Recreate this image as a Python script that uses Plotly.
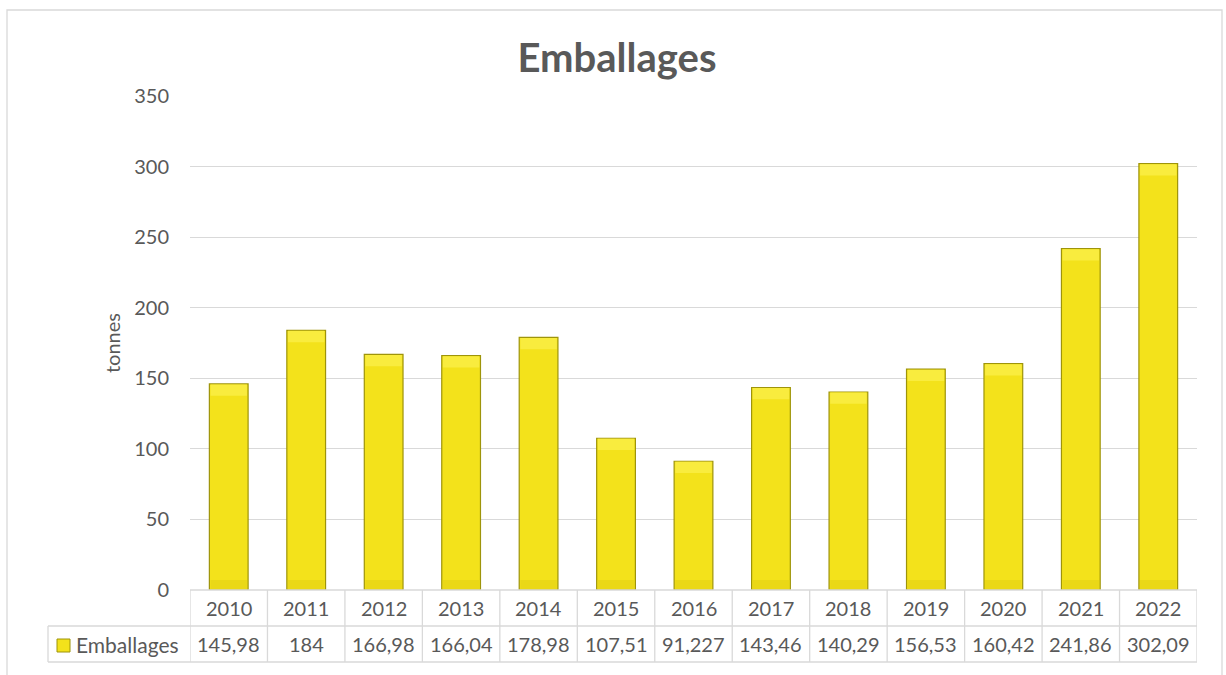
import plotly.graph_objects as go

# ---- data ----
years = ["2010", "2011", "2012", "2013", "2014", "2015", "2016",
         "2017", "2018", "2019", "2020", "2021", "2022"]
emballages = [145.98, 184, 166.98, 166.04, 178.98, 107.51, 91.227,
              143.46, 140.29, 156.53, 160.42, 241.86, 302.09]
series_name = "Emballages"
y_title = "tonnes"
y_ticks = [0, 50, 100, 150, 200, 250, 300, 350]

labels = [str(v).replace(".", ",") for v in emballages]

# ---- layout geometry (pixels) ----
FW, FH = 1226, 675
L, R, T, B = 190, 1197, 96, 590
W, H = R - L, B - T


def px(x):
    return (x - L) / W


def py(y):
    return (B - y) / H


FONT = "Lato, 'Open Sans', sans-serif"
TXT = "#595959"
GRID = "#D9D9D9"
BAR = "#F3E21B"
BAR_EDGE = "#9E940A"
BAR_TOP = "#F9EC3E"
BAR_BOT = "#EAD817"

n = len(years)
idx = list(range(n))
bevel = 8  # data units for bevel bands

fig = go.Figure()
fig.add_trace(go.Bar(
    x=idx, y=emballages, name=series_name, width=0.5,
    marker=dict(color=BAR, line=dict(color=BAR_EDGE, width=1.2)),
    showlegend=False, hoverinfo="x+y"))
fig.add_trace(go.Bar(
    x=idx, y=[bevel] * n, base=[v - bevel - 0.4 for v in emballages], width=0.47,
    marker=dict(color=BAR_TOP, line=dict(width=0)),
    showlegend=False, hoverinfo="skip"))
fig.add_trace(go.Bar(
    x=idx, y=[bevel * 0.8] * n, base=[0.6] * n, width=0.47,
    marker=dict(color=BAR_BOT, line=dict(width=0)),
    showlegend=False, hoverinfo="skip"))

shapes = []
line = dict(color=GRID, width=1.3)
# outer chart border
shapes.append(dict(type="rect", xref="paper", yref="paper",
                   x0=px(7), x1=px(1222), y0=py(700), y1=py(10),
                   line=dict(color=GRID, width=1.3), layer="below"))
# data table
y_top, y_mid, y_bot = py(590), py(626), py(662)
for i in range(n + 1):
    shapes.append(dict(type="line", xref="x", yref="paper",
                       x0=i - 0.5, x1=i - 0.5, y0=y_top, y1=y_bot, line=line))
shapes.append(dict(type="line", xref="paper", yref="paper",
                   x0=px(48), x1=px(48), y0=y_mid, y1=y_bot, line=line))
shapes.append(dict(type="line", xref="x", yref="paper",
                   x0=-0.5, x1=n - 0.5, y0=y_top, y1=y_top, line=line))
for yy in (y_mid, y_bot):
    shapes.append(dict(type="line", xref="paper", yref="paper",
                       x0=px(48), x1=1.0, y0=yy, y1=yy, line=line))
# legend key
shapes.append(dict(type="rect", xref="paper", yref="paper",
                   x0=px(57), x1=px(70), y0=py(652), y1=py(639),
                   fillcolor=BAR, line=dict(color=BAR_EDGE, width=1)))

annotations = []
for i, (yr, lab) in enumerate(zip(years, labels)):
    annotations.append(dict(x=i, xref="x", y=(y_top + y_mid) / 2, yref="paper",
                            text=yr, showarrow=False, yanchor="middle",
                            font=dict(family=FONT, size=20, color=TXT)))
    annotations.append(dict(x=i, xref="x", y=(y_mid + y_bot) / 2, yref="paper",
                            text=lab, showarrow=False, yanchor="middle",
                            font=dict(family=FONT, size=20, color=TXT)))
annotations.append(dict(x=px(74), xref="paper", y=(y_mid + y_bot) / 2, yref="paper",
                        text=series_name, showarrow=False, xanchor="left",
                        yanchor="middle",
                        font=dict(family=FONT, size=21, color=TXT)))

fig.update_layout(
    width=FW, height=FH,
    margin=dict(l=L, r=FW - R, t=T, b=FH - B, autoexpand=False),
    paper_bgcolor="white", plot_bgcolor="white",
    barmode="overlay",
    title=dict(text="<b>Emballages</b>", x=617 / FW, xanchor="center",
               y=1 - 58 / FH, yanchor="middle",
               font=dict(family=FONT, size=40, color=TXT)),
    xaxis=dict(range=[-0.5, n - 0.5], showticklabels=False, showgrid=False,
               zeroline=False, showline=False, ticks="", fixedrange=True),
    yaxis=dict(range=[0, 350], tickvals=y_ticks, showgrid=True, gridcolor=GRID,
               gridwidth=1.3, zeroline=False, showline=False, ticks="outside",
               ticklen=0, ticklabelstandoff=16,
               tickfont=dict(family=FONT, size=20, color=TXT),
               title=dict(text=y_title, standoff=8,
                          font=dict(family=FONT, size=20, color=TXT))),
    shapes=shapes, annotations=annotations,
    bargap=0.5,
)

fig.write_html(
    "out.html",
    config={"displayModeBar": False},
    post_script="document.body.style.margin='0';document.body.style.overflow='hidden';",
)
